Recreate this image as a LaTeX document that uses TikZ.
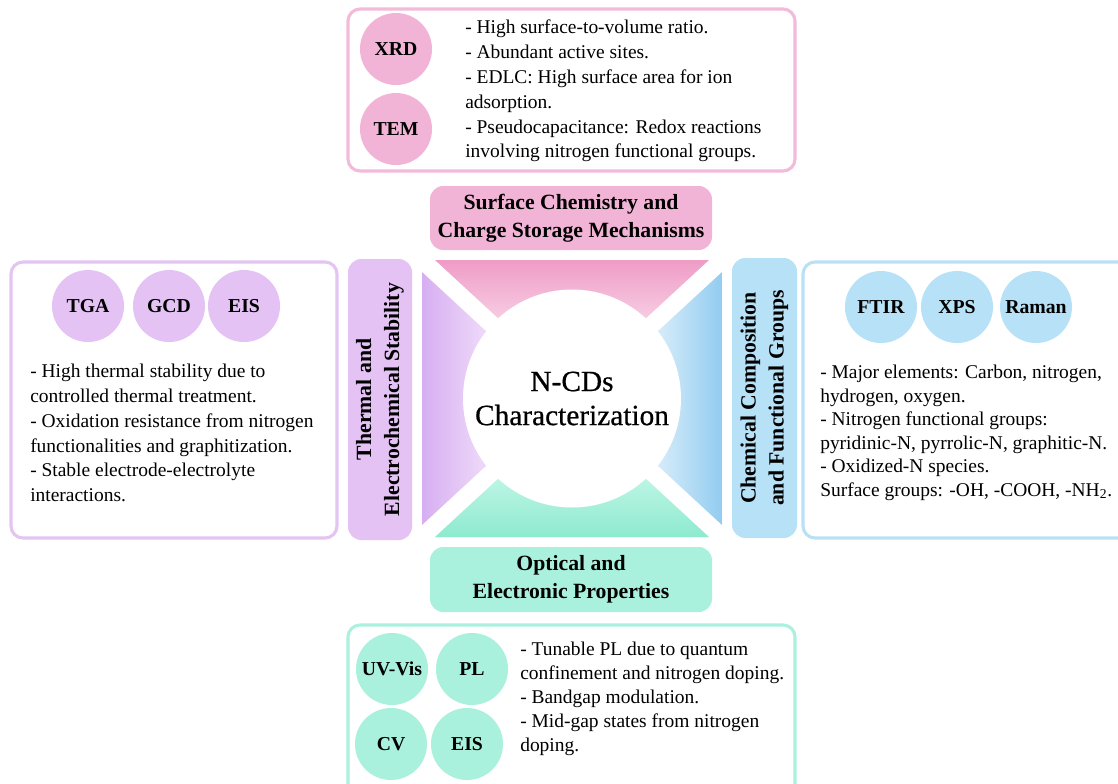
\documentclass[tikz,border=0pt]{standalone}
\usepackage{fontspec}
\setmainfont{Liberation Serif}
\newfontfamily\centrefont{Liberation Serif}[FakeBold=0.6]
\definecolor{pinkC}{HTML}{F2B4D6}
\definecolor{pinkB}{HTML}{F4BAD9}
\definecolor{pinkD}{HTML}{EF9CC7}
\definecolor{pinkL}{HTML}{F7CDE2}
\definecolor{purC}{HTML}{E4C2F4}
\definecolor{purB}{HTML}{E3C4F3}
\definecolor{purD}{HTML}{D6AEF1}
\definecolor{purL}{HTML}{EDD7F9}
\definecolor{bluC}{HTML}{B7E1F7}
\definecolor{bluB}{HTML}{B9E1F6}
\definecolor{bluD}{HTML}{92CCF0}
\definecolor{bluL}{HTML}{D2EAF9}
\definecolor{grnC}{HTML}{A9F0DD}
\definecolor{grnB}{HTML}{ACF0DE}
\definecolor{grnD}{HTML}{8DEACE}
\definecolor{grnL}{HTML}{BDF5E5}
\begin{document}
\begin{tikzpicture}[x=0.75pt,y=-0.75pt,
  outer/.style={line width=2.3pt, rounded corners=9pt},
  headbox/.style={rounded corners=10pt, inner sep=0pt, align=center,
    font=\bfseries\fontsize{16.3}{21}\selectfont},
  tech/.style={circle, minimum size=54pt, inner sep=0pt,
    font=\bfseries\fontsize{14.8}{16}\selectfont},
  body/.style={align=left, inner sep=0pt, anchor=north west,
    font=\fontsize{14.6}{18.6}\selectfont}]
\useasboundingbox (0,0) rectangle (1118,783);
\clip (0,0) rectangle (1118,783);
\fill[white] (0,0) rectangle (1118,783);

% ---------- central frame ----------
\coordinate (C) at (572,398.5);
\coordinate (TL) at (422,260);
\coordinate (TR) at (722,260);
\coordinate (BL) at (422,537);
\coordinate (BR) at (722,537);
% top (pink)
\fill[pinkL] (TL) -- (TR) -- (C) -- cycle;
\begin{scope}
  \clip (TL) -- (TR) -- (C) -- cycle;
  \shade[top color=pinkD, bottom color=pinkL] (422,260) rectangle (722,320);
\end{scope}
% left (purple)
\fill[purL] (TL) -- (C) -- (BL) -- cycle;
\begin{scope}
  \clip (TL) -- (C) -- (BL) -- cycle;
  \shade[left color=purD, right color=purL] (422,260) rectangle (482,537);
\end{scope}
% right (blue)
\fill[bluL] (TR) -- (C) -- (BR) -- cycle;
\begin{scope}
  \clip (TR) -- (C) -- (BR) -- cycle;
  \shade[left color=bluL, right color=bluD] (662,260) rectangle (722,537);
\end{scope}
% bottom (green)
\fill[grnL] (BL) -- (C) -- (BR) -- cycle;
\begin{scope}
  \clip (BL) -- (C) -- (BR) -- cycle;
  \shade[top color=grnL, bottom color=grnD] (422,478) rectangle (722,537);
\end{scope}
% white diagonal gaps
\draw[white, line width=13pt] (TL) -- (BR) (TR) -- (BL);
% centre circle
\node[circle, fill=white, minimum size=163.5pt, inner sep=0pt, align=center,
  font=\centrefont\fontsize{22}{25.5}\selectfont] (centre) at (C) {N-CDs\\Characterization};

% ---------- headings ----------
\node[headbox, fill=pinkC, minimum width=211.5pt, minimum height=48pt]
  (hsurf) at (571,218) {Surface Chemistry and\\Charge Storage Mechanisms};
\node[headbox, fill=grnC, minimum width=211.5pt, minimum height=48.75pt]
  (hopt) at (571,579.5) {Optical and\\Electronic Properties};
\node[headbox, fill=purC, minimum width=210.75pt, minimum height=48pt, rotate=90]
  (htherm) at (380,399.5) {Thermal and\\Electrochemical Stability};
\node[headbox, fill=bluC, minimum width=210pt, minimum height=48.75pt, rotate=90]
  (hchem) at (764.5,398) {Chemical Composition\\and Functional Groups};

% ---------- outer boxes ----------
\draw[outer, draw=pinkB] (348,9) rectangle (795,171);
\draw[outer, draw=purB] (11,262) rectangle (337,538);
\draw[outer, draw=bluB] (803,262) rectangle (1140,538);
\draw[outer, draw=grnB] (348,625) rectangle (795,810);

% ---------- technique circles ----------
\node[tech, fill=pinkC] (xrd) at (396,49) {XRD};
\node[tech, fill=pinkC] (tem) at (396,129) {TEM};

\node[tech, fill=purC] (tga) at (88,306) {TGA};
\node[tech, fill=purC] (gcd) at (169,306) {GCD};
\node[tech, fill=purC] (eisA) at (244,306) {EIS};

\node[tech, fill=bluC] (ftir) at (881,307) {FTIR};
\node[tech, fill=bluC] (xps) at (957,307) {XPS};
\node[tech, fill=bluC] (raman) at (1036,307) {Raman};

\node[tech, fill=grnC] (uvvis) at (392,669) {UV-Vis};
\node[tech, fill=grnC] (pl) at (472,669) {PL};
\node[tech, fill=grnC] (cv) at (391,744) {CV};
\node[tech, fill=grnC] (eisB) at (467,744) {EIS};

% ---------- descriptions ----------
\node[body] (tsurf) at (465,20) {- High surface-to-volume ratio.\\
- Abundant active sites.\\
- EDLC: High surface area for ion\\
adsorption.\\
- Pseudocapacitance: Redox reactions\\
involving nitrogen functional groups.};

\node[body] (ttherm) at (30,364) {- High thermal stability due to\\
controlled thermal treatment.\\
- Oxidation resistance from nitrogen\\
functionalities and graphitization.\\
- Stable electrode-electrolyte\\
interactions.};

\node[body, font=\fontsize{14.6}{17.6}\selectfont] (tchem) at (820,365) {- Major elements: Carbon, nitrogen,\\
hydrogen, oxygen.\\
- Nitrogen functional groups:\\
pyridinic-N, pyrrolic-N, graphitic-N.\\
- Oxidized-N species.\\
Surface groups: -OH, -COOH, -NH\textsubscript{2}.};

\node[body, font=\fontsize{14.6}{17.9}\selectfont] (topt) at (520,642) {- Tunable PL due to quantum\\
confinement and nitrogen doping.\\
- Bandgap modulation.\\
- Mid-gap states from nitrogen\\
doping.};
\end{tikzpicture}
\end{document}
